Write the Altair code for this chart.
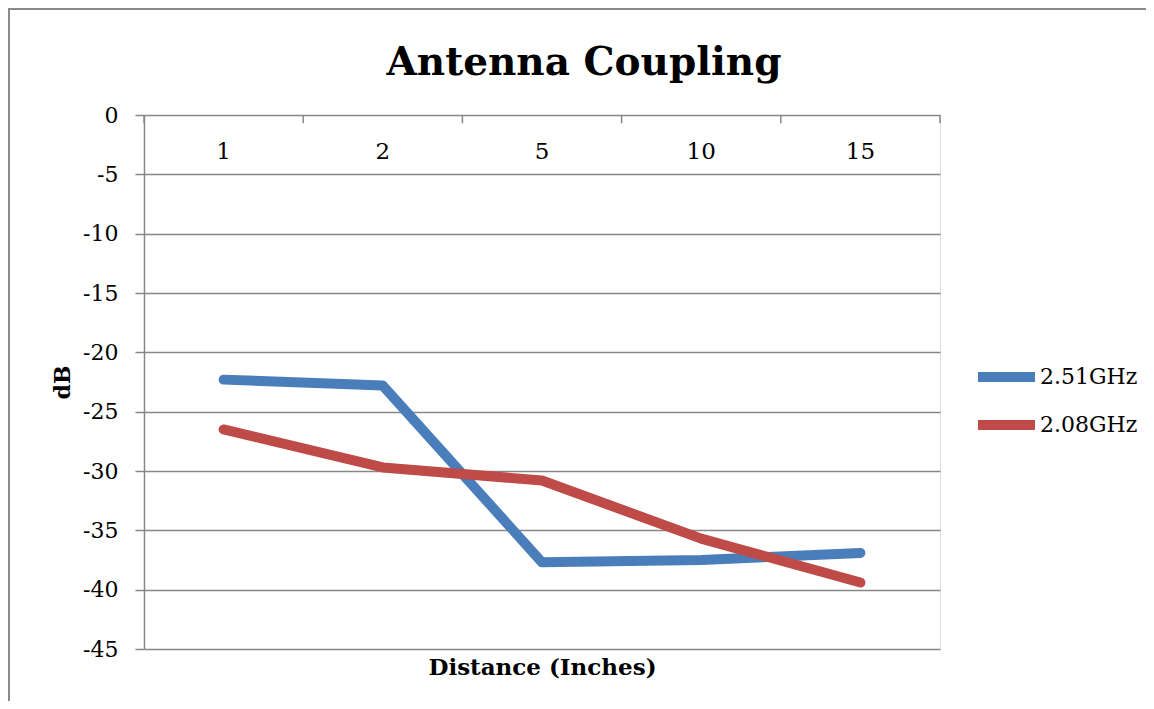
import altair as alt
import pandas as pd

distances = ["1", "2", "5", "10", "15"]
s251 = [-22.3, -22.8, -37.7, -37.5, -36.9]
s208 = [-26.5, -29.7, -30.8, -35.7, -39.4]
series = ["2.51GHz", "2.08GHz"]
colors = ["#4A7EBB", "#BE4B48"]
y_ticks = list(range(0, -50, -5))

rows = []
for name, vals in zip(series, [s251, s208]):
    for d, v in zip(distances, vals):
        rows.append({"dist": d, "dB": v, "series": name})
df = pd.DataFrame(rows)

FONT = "DejaVu Serif"
GRID = "#878787"
W, H = 796, 534

xscale = alt.Scale(domain=distances, paddingInner=0, paddingOuter=0)
yscale = alt.Scale(domain=[-45, 0], nice=False, zero=False)

x_axis = alt.Axis(orient="bottom", domain=False, ticks=False, labelAngle=0,
                  labelPadding=-509, labelFontSize=23, labelFont=FONT,
                  labelColor="black", titleFont=FONT, titleFontSize=23,
                  titleFontWeight="bold", titleColor="black",
                  titleBaseline="middle", titleY=18)
y_axis = alt.Axis(values=y_ticks, grid=True, gridColor=GRID, gridWidth=1.5,
                  domain=True, domainColor=GRID, domainWidth=1.5,
                  ticks=True, tickColor=GRID, tickWidth=1.5, tickSize=9,
                  labelPadding=17, labelFont=FONT, labelFontSize=22,
                  labelExpr="datum.value + ''",
                  labelColor="black", titleFont=FONT, titleFontSize=22,
                  titleFontWeight="bold", titleColor="black", titlePadding=8)

lines = alt.Chart(df).mark_line(strokeWidth=10, strokeCap="round", strokeJoin="round").encode(
    x=alt.X("dist:N", sort=distances, scale=xscale, title="Distance (Inches)", axis=x_axis),
    y=alt.Y("dB:Q", scale=yscale, title="dB", axis=y_axis),
    color=alt.Color("series:N", scale=alt.Scale(domain=series, range=colors),
                    legend=alt.Legend(title=None, orient="none", legendX=829, legendY=238,
                                      symbolType="stroke", symbolSize=3249,
                                      symbolStrokeWidth=10, clipHeight=48,
                                      labelFont=FONT, labelFontSize=22, labelColor="black",
                                      labelOffset=0, padding=0, rowPadding=0)),
)

tick_df = pd.DataFrame({"dist": distances})
ticks = alt.Chart(tick_df).mark_rule(color=GRID, strokeWidth=1.5).encode(
    x=alt.X("dist:N", sort=distances, scale=xscale, bandPosition=0,
            title="Distance (Inches)", axis=x_axis),
    y=alt.datum(0, axis=y_axis, title="dB"),
    y2=alt.datum(-0.7),
)
end_df = pd.DataFrame({"dist": [distances[-1]]})
tick_end = alt.Chart(end_df).mark_rule(color=GRID, strokeWidth=1.5).encode(
    x=alt.X("dist:N", sort=distances, scale=xscale, bandPosition=1,
            title="Distance (Inches)", axis=x_axis),
    y=alt.datum(0, axis=y_axis, title="dB"),
    y2=alt.datum(-0.7),
)

border_df = pd.DataFrame({"k": [0]})
border = alt.Chart(border_df).mark_rule(color="#8a8a8a", strokeWidth=2).encode(
    x=alt.value(-135), y=alt.value(-107), y2=alt.value(586)
)
border_top = alt.Chart(border_df).mark_rule(color="#8a8a8a", strokeWidth=2).encode(
    x=alt.value(-136), x2=alt.value(1002), y=alt.value(-106)
)

chart = alt.layer(border, border_top, ticks, tick_end, lines).properties(
    width=W, height=H,
    title=alt.Title("Antenna Coupling", font=FONT, fontSize=39, fontWeight="bold",
                    color="black", anchor="middle", dx=42, offset=0,
                    baseline="alphabetic", dy=107),
    autosize=alt.AutoSizeParams(type="none"),
    padding={"left": 136, "top": 107, "right": 206, "bottom": 52},
).configure_view(strokeWidth=0).configure(background="white")

chart.save("out.html", embed_options={"renderer": "svg", "actions": False})
